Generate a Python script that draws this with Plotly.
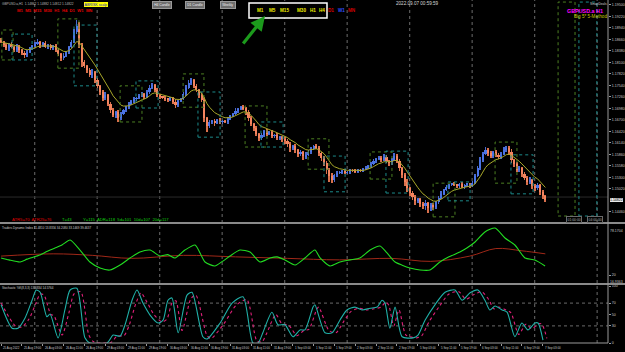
import plotly.graph_objects as go
import pandas as pd

# ---------------- DATA ----------------
open_first = 1.1865
closes = [
    1.1860, 1.1852, 1.1845, 1.1855, 1.1848, 1.1840, 1.1850, 1.1840, 1.1833, 1.1828,
    1.1835, 1.1845, 1.1850, 1.1855, 1.1860, 1.1852, 1.1857, 1.1848, 1.1852, 1.1845,
    1.1850, 1.1840, 1.1831, 1.1821, 1.1826, 1.1835, 1.1848, 1.1860, 1.1884, 1.1899,
    1.1852, 1.1811, 1.1801, 1.1792, 1.1779, 1.1787, 1.1767, 1.1753, 1.1738, 1.1723,
    1.1731, 1.1709, 1.1694, 1.1682, 1.1689, 1.1675, 1.1684, 1.1694, 1.1701, 1.1709,
    1.1716, 1.1721, 1.1723, 1.1728, 1.1733, 1.1726, 1.1738, 1.1748, 1.1755, 1.1743,
    1.1731, 1.1726, 1.1723, 1.1721, 1.1719, 1.1723, 1.1714, 1.1706, 1.1716, 1.1721,
    1.1733, 1.1748, 1.1760, 1.1767, 1.1753, 1.1743, 1.1731, 1.1719, 1.1675, 1.1655,
    1.1665, 1.1667, 1.1662, 1.1670, 1.1665, 1.1667, 1.1665, 1.1672, 1.1680, 1.1684,
    1.1692, 1.1697, 1.1701, 1.1699, 1.1689, 1.1675, 1.1660, 1.1650, 1.1636, 1.1626,
    1.1633, 1.1643, 1.1636, 1.1641, 1.1631, 1.1633, 1.1626, 1.1628, 1.1624, 1.1619,
    1.1611, 1.1602, 1.1607, 1.1597, 1.1587, 1.1592, 1.1582, 1.1585, 1.1592, 1.1599,
    1.1607, 1.1602, 1.1589, 1.1577, 1.1565, 1.1548, 1.1533, 1.1524, 1.1536, 1.1541,
    1.1543, 1.1546, 1.1541, 1.1543, 1.1548, 1.1546, 1.1543, 1.1548, 1.1546, 1.1550,
    1.1553, 1.1558, 1.1563, 1.1570, 1.1575, 1.1577, 1.1572, 1.1580, 1.1570, 1.1565,
    1.1572, 1.1582, 1.1570, 1.1553, 1.1536, 1.1519, 1.1504, 1.1492, 1.1482, 1.1473,
    1.1477, 1.1465, 1.1460, 1.1468, 1.1455, 1.1463, 1.1458, 1.1470, 1.1480, 1.1490,
    1.1499, 1.1507, 1.1512, 1.1514, 1.1512, 1.1509, 1.1514, 1.1507, 1.1512, 1.1514,
    1.1509, 1.1516, 1.1533, 1.1553, 1.1572, 1.1587, 1.1597, 1.1589, 1.1582, 1.1592,
    1.1585, 1.1580, 1.1587, 1.1597, 1.1602, 1.1592, 1.1572, 1.1563, 1.1548, 1.1553,
    1.1538, 1.1529, 1.1519, 1.1524, 1.1509, 1.1504, 1.1512, 1.1495, 1.1485, 1.1475,
]
# upper / lower shadow lengths in pips
hi_pips = [
    4, 3, 5, 2, 4, 3, 6, 2, 3, 4,  5, 3, 2, 4, 6, 3, 2, 5, 3, 4,
    3, 5, 4, 2, 6, 4, 3, 5, 8, 14,  10, 6, 4, 3, 5, 7, 3, 4, 2, 5,
    6, 3, 4, 5, 3, 4, 6, 3, 2, 4,  3, 5, 2, 4, 6, 3, 4, 7, 5, 3,
    4, 2, 3, 5, 2, 4, 3, 6, 2, 3,  5, 6, 8, 4, 3, 5, 2, 4, 6, 3,
    4, 3, 5, 2, 4, 3, 2, 5, 3, 4,  6, 3, 4, 5, 3, 6, 4, 3, 5, 2,
    5, 3, 4, 2, 5, 3, 4, 2, 3, 5,  4, 6, 3, 5, 2, 4, 3, 6, 4, 5,
    3, 5, 4, 3, 6, 4, 5, 7, 3, 4,  2, 3, 4, 2, 3, 2, 4, 3, 2, 3,
    4, 3, 5, 4, 3, 6, 4, 7, 5, 3,  6, 8, 4, 5, 3, 4, 6, 3, 4, 5,
    4, 3, 5, 6, 3, 4, 5, 3, 4, 6,  3, 4, 2, 3, 4, 2, 3, 5, 3, 2,
    3, 5, 6, 4, 7, 5, 8, 4, 6, 3,  5, 4, 6, 7, 5, 4, 6, 3, 5, 4,
    3, 5, 4, 6, 3, 4, 5, 3, 4, 2,
]
lo_pips = [
    3, 5, 4, 6, 3, 5, 4, 6, 5, 7,  4, 3, 5, 2, 3, 6, 4, 3, 5, 4,
    5, 4, 6, 8, 4, 3, 5, 2, 3, 4,  6, 12, 5, 7, 4, 6, 8, 5, 7, 6,
    4, 6, 8, 5, 7, 9, 4, 3, 5, 4,  3, 4, 5, 3, 2, 5, 3, 4, 3, 6,
    4, 5, 3, 4, 6, 3, 5, 7, 4, 3,  2, 4, 3, 5, 6, 4, 7, 6, 9, 14,
    5, 4, 6, 3, 5, 4, 3, 5, 3, 2,  3, 4, 2, 5, 6, 7, 5, 8, 6, 7,
    5, 4, 6, 3, 5, 6, 4, 5, 7, 8,  6, 9, 5, 7, 8, 6, 9, 7, 4, 5,
    3, 4, 6, 8, 7, 9, 15, 8, 5, 4,  3, 4, 3, 2, 4, 3, 2, 3, 4, 3,
    2, 3, 4, 3, 5, 2, 4, 3, 5, 6,  4, 3, 6, 8, 7, 9, 10, 8, 7, 9,
    6, 8, 7, 9, 12, 6, 8, 5, 4, 3,  4, 3, 5, 4, 3, 5, 4, 3, 4, 5,
    4, 3, 2, 3, 4, 5, 3, 6, 5, 4,  5, 6, 4, 3, 5, 7, 6, 8, 5, 6,
    7, 6, 8, 5, 7, 6, 5, 8, 7, 6,
]

time_labels = ["25 Aug 2022", "25 Aug 19:00", "26 Aug 03:00", "26 Aug 11:00", "26 Aug 19:00",
               "29 Aug 03:00", "29 Aug 11:00", "29 Aug 19:00", "30 Aug 03:00", "30 Aug 11:00",
               "30 Aug 19:00", "31 Aug 03:00", "31 Aug 11:00", "31 Aug 19:00", "1 Sep 03:00",
               "1 Sep 11:00", "1 Sep 19:00", "2 Sep 03:00", "2 Sep 11:00", "2 Sep 19:00",
               "5 Sep 03:00", "5 Sep 11:00", "5 Sep 19:00", "6 Sep 03:00", "6 Sep 11:00",
               "6 Sep 19:00", "7 Sep 03:00"]
day_starts = [13, 37, 61, 85, 109, 133, 157, 181, 205, 229]
price_ticks = [1.1950, 1.1922, 1.1894, 1.1866, 1.1838, 1.1810, 1.1782, 1.1754, 1.1726, 1.1698,
               1.1670, 1.1642, 1.1614, 1.1586, 1.1558, 1.1530, 1.1502, 1.1446]
last_price = 1.14822

# (start bar, end bar, top price, bottom price, kind)
boxes = [
    (0.3, 4.6, 1.1889, 1.1816, "g"), (4.2, 11.9, 1.1879, 1.1816, "t"),
    (21.8, 29.9, 1.1916, 1.1796, "g"), (28.0, 36.8, 1.1901, 1.1753, "t"),
    (45.7, 54.1, 1.1753, 1.1665, "g"), (51.8, 60.3, 1.1765, 1.1699, "t"),
    (69.9, 77.9, 1.1782, 1.1701, "g"), (75.6, 84.1, 1.1738, 1.1628, "t"),
    (93.7, 102.1, 1.1704, 1.1604, "g"), (99.8, 108.3, 1.1665, 1.1604, "t"),
    (117.9, 125.9, 1.1624, 1.1550, "g"), (124.0, 132.1, 1.1582, 1.1495, "t"),
    (141.7, 150.1, 1.1592, 1.1526, "g"), (147.8, 156.3, 1.1594, 1.1492, "t"),
    (165.9, 174.3, 1.1516, 1.1434, "g"), (171.6, 180.1, 1.1519, 1.1473, "t"),
    (189.7, 198.1, 1.1616, 1.1516, "g"), (195.8, 204.3, 1.1585, 1.1490, "t"),
    (213.9, 220.4, 1.1957, 1.1436, "g"), (221.9, 228.8, 1.1957, 1.1436, "t"),
]

# Traders Dynamic Index (green price line and red signal line)
tdi_x = [0, 3, 7.3, 10, 14.9, 17.5, 20.7, 23.5, 26.5, 30.3, 34.1, 38, 41.8, 45.7, 49.5, 53.3, 57.2,
         61, 64, 66.8, 70.6, 74.5, 78.3, 82.1, 85, 87.9, 91.7, 95.6, 99.4, 103.3, 106, 109, 112.9,
         116.7, 120.5, 122.5, 126.3, 130.1, 134, 137.8, 141.7, 145.5, 148, 151.3, 154, 157, 160.9,
         164.7, 168.5, 172, 176.2, 179, 182, 185.8, 189.7, 193.5, 197.3, 201.2, 205, 208.9]
tdi_green = [42.5, 40, 37.2, 41, 46.5, 51, 55.7, 60, 66.3, 53, 37.2, 29.3, 26.6, 33.2, 42.5, 50.4,
             53, 45.1, 47, 42.5, 53, 59.7, 37.2, 31.9, 38, 45.1, 53, 50.4, 37.2, 42.5, 44, 39.8,
             33.2, 42.5, 53, 42.5, 31.9, 37.2, 40, 42.5, 53, 58.4, 50, 37.2, 33, 29.3, 26.6, 26.6,
             37.2, 44, 50.4, 56, 63.7, 76.9, 82.2, 69, 59.7, 42.5, 39.8, 31.9]
tdi_sig_x = [0, 20, 35, 50, 70, 90, 110, 130, 150, 165, 180, 190, 200, 209]
tdi_sig = [45, 48, 46, 42, 46, 44, 42, 40, 42, 38, 45, 55, 52, 48]

# Stochastic %K and signal
stk_x = [0, 4.2, 6.5, 9.2, 11.9, 13.5, 15, 17.6, 18.8, 21.9, 24.5, 26.5, 29.1, 32.2, 34.1, 40.7,
         43, 45.7, 47.6, 50.3, 52.2, 54.5, 57.2, 60.3, 62.2, 64.1, 65.6, 68, 71.4, 73.3, 77.5,
         79.1, 84.1, 88.7, 92.9, 96.7, 98.7, 100.6, 104, 106.3, 109, 112.1, 114.8, 116.7, 119.8,
         120.5, 124.4, 127.1, 130.1, 132.8, 135.9, 138.6, 141.7, 144.4, 146.3, 147.4, 149.3,
         151.3, 154, 158.2, 160.1, 162.8, 166.6, 170.5, 174.3, 177, 180.1, 183.1, 185.8, 187.7,
         189.7, 192.4, 194.3, 197.3, 200, 202.3, 205, 206.2, 208.1]
stk_k = [67, 26, 26, 44, 75, 93, 89, 46, 51, 9, 58, 93, 96, 9, 0, 0, 14, 12, 32, 75, 93, 70, 49,
         35, 40, 75, 79, 18, 84, 89, 11, 7, 35, 70, 81, 0, 0, 19, 54, 32, 32, 11, 23, 23, 63, 67,
         18, 18, 40, 58, 63, 58, 61, 63, 75, 70, 26, 63, 11, 9, 14, 40, 67, 89, 93, 75, 88, 93,
         75, 58, 65, 58, 54, 11, 35, 23, 35, 35, 5]
sig_x = [0, 5.5, 8, 10.7, 13.4, 15, 16.5, 19.1, 20.3, 23.4, 26, 28, 30.6, 33.7, 35.6, 42.2, 44.5,
         47.2, 49.1, 51.8, 53.7, 56, 58.7, 61.8, 63.7, 65.6, 67.1, 69.5, 72.9, 74.8, 79, 80.6,
         85.6, 90.2, 94.4, 98.2, 100.2, 102.1, 105.5, 107.8, 110.5, 113.6, 116.3, 118.2, 121.3,
         122, 125.9, 128.6, 131.6, 134.3, 137.4, 140.1, 143.2, 145.9, 147.8, 148.9, 150.8, 152.8,
         155.5, 159.7, 161.6, 164.3, 168.1, 172, 175.8, 178.5, 181.6, 184.6, 187.3, 189.2, 191.2,
         193.9, 195.8, 198.8, 201.5, 203.8, 206.5, 207.7, 209.6]
sig_v = [70, 30, 28, 42, 70, 86, 84, 50, 48, 14, 52, 86, 90, 14, 2, 1, 12, 13, 30, 70, 88, 72, 50,
         37, 42, 70, 74, 22, 78, 84, 14, 8, 34, 66, 76, 4, 2, 18, 50, 34, 31, 13, 22, 24, 60, 63,
         22, 18, 38, 55, 61, 58, 60, 63, 72, 66, 30, 58, 14, 9, 13, 37, 63, 86, 90, 77, 85, 90,
         76, 60, 63, 58, 53, 15, 33, 25, 34, 33, 8]

# ---------------- LAYOUT CONSTANTS ----------------
W, H = 625, 352
PW, PH = 608, 343          # plot area in pixels
BAR_PX = 2.604
X0 = -0.42
X1 = X0 + PW / BAR_PX
FONT = "Liberation Sans"
PIP = 0.0001


def pxx(x):
    return x / PW


def pxy(y):
    return (PH - y) / PH


opens = [open_first] + closes[:-1]
n = len(closes)
bars = list(range(n))
highs = [max(o, c) + hp * PIP for o, c, hp in zip(opens, closes, hi_pips)]
lows = [min(o, c) - lp * PIP for o, c, lp in zip(opens, closes, lo_pips)]
up = [c >= o for o, c in zip(opens, closes)]
UP_C, DN_C = "#4a74e6", "#f4845f"
UPW_C, DNW_C = "#4a6ad0", "#d8704c"

fig = go.Figure()

# wicks
fig.add_trace(go.Bar(x=bars, y=[h - l for h, l in zip(highs, lows)], base=lows, width=0.28,
                     marker=dict(color=[UPW_C if u else DNW_C for u in up], line_width=0),
                     xaxis="x", yaxis="y", hoverinfo="skip"))
# bodies
fig.add_trace(go.Bar(x=bars, y=[c - o for o, c in zip(opens, closes)], base=opens, width=0.82,
                     marker=dict(color=[UP_C if u else DN_C for u in up], line_width=0),
                     xaxis="x", yaxis="y", hoverinfo="skip"))
# moving average
ma = pd.Series(closes).ewm(span=9, adjust=False).mean()
fig.add_trace(go.Scatter(x=bars, y=ma, mode="lines", line=dict(color="#a8a82a", width=1),
                         xaxis="x", yaxis="y", hoverinfo="skip"))

# TDI
fig.add_trace(go.Scatter(x=tdi_sig_x, y=tdi_sig, mode="lines", line=dict(color="#a02818", width=1, shape="spline"),
                         xaxis="x", yaxis="y2", hoverinfo="skip"))
fig.add_trace(go.Scatter(x=tdi_x, y=tdi_green, mode="lines", line=dict(color="#22dd22", width=1.1, shape="spline", smoothing=0.6),
                         xaxis="x", yaxis="y2", hoverinfo="skip"))

# Stochastic
fig.add_trace(go.Scatter(x=sig_x, y=sig_v, mode="lines", line=dict(color="#e0207a", width=1.1, dash="dot", shape="spline", smoothing=0.7),
                         xaxis="x", yaxis="y3", hoverinfo="skip"))
fig.add_trace(go.Scatter(x=stk_x, y=stk_k, mode="lines", line=dict(color="#20b0a8", width=1.1, shape="spline", smoothing=0.7),
                         xaxis="x", yaxis="y3", hoverinfo="skip"))

shapes = []
# day separators
for d in day_starts:
    shapes.append(dict(type="line", xref="x", yref="paper", x0=d - 0.1, x1=d - 0.1, y0=0, y1=1,
                       line=dict(color="#5a5a5a", width=1.2, dash="dot"), layer="below"))
# boxes
for b0, b1, pt, pb, k in boxes:
    col = "#4c7f22" if k == "g" else "#1c8a8a"
    shapes.append(dict(type="rect", xref="x", yref="y", x0=b0, x1=b1, y0=pb, y1=pt,
                       line=dict(color=col, width=1, dash="dot"), fillcolor="rgba(0,0,0,0)"))
# current price line
shapes.append(dict(type="line", xref="paper", yref="y", x0=0, x1=1, y0=last_price, y1=last_price,
                   line=dict(color="#2a2a2a", width=1), layer="below"))
# stochastic levels
for lv in (30, 70):
    shapes.append(dict(type="line", xref="paper", yref="y3", x0=0, x1=1, y0=lv, y1=lv,
                       line=dict(color="#6a6a6a", width=1, dash="dot"), layer="below"))
# panel separators
for yp in (223, 284):
    shapes.append(dict(type="line", xref="paper", yref="paper", x0=0, x1=W / PW, y0=pxy(yp), y1=pxy(yp),
                       line=dict(color="#8a8a8a", width=2)))
# frame at right/bottom
shapes.append(dict(type="line", xref="paper", yref="paper", x0=1, x1=1, y0=0, y1=1,
                   line=dict(color="#9a9a9a", width=1)))
shapes.append(dict(type="line", xref="paper", yref="paper", x0=0, x1=1, y0=0, y1=0,
                   line=dict(color="#9a9a9a", width=1)))
# top-right tool box outline
shapes.append(dict(type="rect", xref="paper", yref="paper", x0=pxx(249), x1=pxx(327), y0=pxy(18), y1=pxy(3),
                   line=dict(color="#ffffff", width=1.5), fillcolor="#000000"))

ann = []


def text(x, y, t, color="#c8c8c8", size=4, anchor="left", bold=False, bg=None, border=None, pad=0):
    ann.append(dict(x=pxx(x), y=pxy(y), xref="paper", yref="paper", text=("<b>%s</b>" % t) if bold else t,
                    showarrow=False, xanchor=anchor, yanchor="middle",
                    font=dict(color=color, size=size, family=FONT),
                    bgcolor=bg, bordercolor=border, borderwidth=1 if border else 0, borderpad=pad))


text(2, 4, "GBPUSD.a,H1  1.14862 1.14882 1.14812 1.14822", "#b8b8b8", 3.2)
text(84, 4.5, "ABRISK scalp", "#1020c0", 3.6, bg="#ffff00", pad=0.5)
text(17, 10.5, "M1  M5  M15  M30  H1  H4  D1  W1  MN", "#e00000", 4.2, bold=True)
for bx, lab in ((162, "H4 Candle"), (195, "D1 Candle"), (227.5, "Weekly")):
    text(bx, 5, lab, "#f0f0f0", 3.3, anchor="center", bg="#6e6e6e", border="#9a9a9a", pad=1.2)
for bx, lab in ((260.5, "M1"), (272, "M5"), (284, "M15"), (301, "M30"), (312.5, "H1"), (322, "H4")):
    text(bx, 11, lab, "#f0f000", 4.6, anchor="center", bold=True)
text(330.5, 11, "D1", "#e00000", 4.6, anchor="center", bold=True)
text(341.5, 11, "W1", "#3050ff", 4.6, anchor="center", bold=True)
text(352, 11, "MN", "#d00000", 4.6, anchor="center", bold=True)
text(396, 4, "2022.09.07 00:59:59", "#d8d8d8", 4.6)
text(607, 3.5, "SmartDeals", "#d0d0d0", 3.2, anchor="right")
text(603, 10.5, "GBPUSD.a H1", "#ff00ff", 5.4, anchor="right", bold=True)
text(607, 16.5, "Big 5* 5-Method", "#c8c800", 4.6, anchor="right")
text(12, 219, "ATR5=70  ATR25=76", "#e00000", 4.2)
text(62, 219, "T=43", "#10d010", 4.2)
text(83, 219, "Y=115  ADR=118  5d=101  10d=107  20d=117", "#10d010", 4.2)
text(566, 219.5, "01:00:00", "#b0b0b0", 3.4, border="#6a6a6a", pad=0.5)
text(587, 219.5, "04:00:00", "#b0b0b0", 3.4, border="#6a6a6a", pad=0.5)
text(2, 227.5, "Traders Dynamic Index 11.4810 13.8356 34.2080 33.1469 39.4637", "#d0d0d0", 3.0)
text(2, 288, "Stochastic %K(8,3,3) 13.6834 14.5764", "#d0d0d0", 3.0)
# right-axis extra labels
text(609.5, 200.3, "1.14822", "#000000", 3.5, bg="#e8e8e8")
text(609.5, 231, "78.1704", "#c8c8c8", 3.5)
text(609.5, 281.5, "16.9363", "#c8c8c8", 3.5)

# time labels
for i, lab in enumerate(time_labels):
    ann.append(dict(x=i * 8, y=pxy(347.5), xref="x", yref="paper", text=lab, showarrow=False,
                    xanchor="left", yanchor="middle", font=dict(color="#c8c8c8", size=2.9, family=FONT)))

# green arrow
ann.append(dict(x=pxx(265), y=pxy(16), xref="paper", yref="paper", ax=-23, ay=29, text="",
                showarrow=True, arrowhead=2, arrowsize=0.9, arrowwidth=3.2, arrowcolor="#1c9a1c"))

axis_font = dict(color="#c8c8c8", size=3.6, family=FONT)
fig.update_layout(
    width=W, height=H, margin=dict(l=0, r=W - PW, t=0, b=H - PH),
    paper_bgcolor="#000000", plot_bgcolor="#000000", showlegend=False, barmode="overlay",
    bargap=0, shapes=shapes, annotations=ann,
    xaxis=dict(range=[X0, X1], anchor="y3", showgrid=False, zeroline=False, showticklabels=False,
               tickvals=[i * 8 for i in range(len(time_labels))], ticks="outside", ticklen=2,
               tickcolor="#9a9a9a"),
    yaxis=dict(domain=[pxy(222), 1], range=[1.1962 - 222 * 0.0002435, 1.1962], side="right",
               anchor="x", showgrid=False, zeroline=False, tickvals=price_ticks,
               ticktext=["%.5f" % p for p in price_ticks], tickfont=axis_font, ticks="outside",
               ticklen=2, tickcolor="#9a9a9a"),
    yaxis2=dict(domain=[pxy(283), pxy(224.5)], range=[9.42, 86.8], side="right", anchor="x",
                showgrid=False, zeroline=False, tickvals=[20], tickfont=axis_font, ticks="outside",
                ticklen=2, tickcolor="#9a9a9a"),
    yaxis3=dict(domain=[0, pxy(285)], range=[0, 101.75], side="right", anchor="x",
                showgrid=False, zeroline=False, tickvals=[0, 30, 50, 70, 100], tickfont=axis_font,
                ticks="outside", ticklen=2, tickcolor="#9a9a9a"),
)

fig.write_html("out.html")
